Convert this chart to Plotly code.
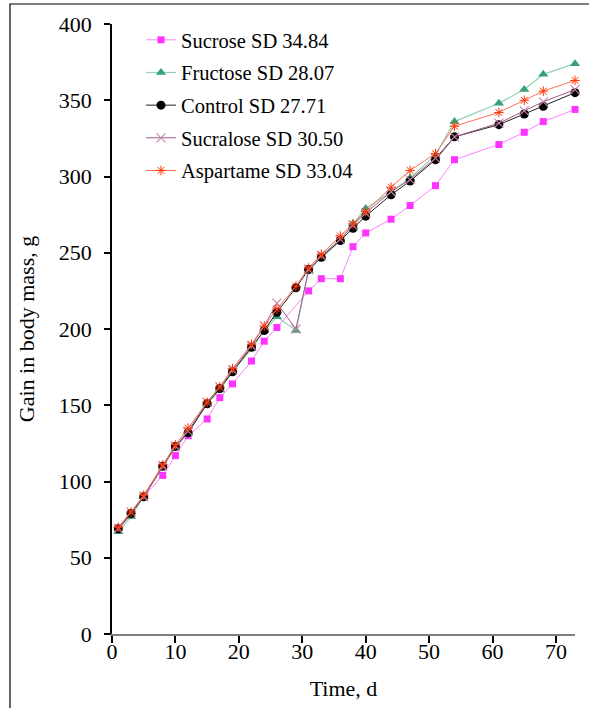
import plotly.graph_objects as go

days = [1, 3, 5, 8, 10, 12, 15, 17, 19, 22, 24, 26, 29, 31, 33, 36, 38, 40, 44, 47, 51, 54, 61, 65, 68, 73]

sucrose = [69, 78, 90, 104, 117, 130, 141, 155, 164, 179, 192, 201, None, 225, 233, 233, 254, 263, 272, 281, 294, 311, 321, 329, 336, 344]
fructose = [67, 77, 90, 110, 122, 132, 151, 160, 172, 187, 199, 208, 199, 238, 247, 258, 269, 279, 290, 299, 314, 336, 348, 357, 367, 374]
control = [69, 79, 90, 110, 123, 132, 151, 161, 172, 188, 199, 211, 227, 239, 247, 258, 266, 274, 288, 297, 311, 326, 334, 341, 346, 355]
sucralose = [69, 80, 90, 110, 123, 133, 152, 162, 173, 189, 202, 217, 200, 239, 248, 259, 268, 276, 290, 298, 312, 326, 335, 343, 349, 357]
aspartame = [70, 80, 91, 111, 124, 135, 152, 162, 174, 190, 202, 213, 228, 240, 249, 261, 269, 277, 293, 304, 315, 333, 342, 350, 356, 363]

names = ["Sucrose SD 34.84", "Fructose SD 28.07", "Control SD 27.71", "Sucralose SD 30.50", "Aspartame SD 33.04"]
x_ticks = [0, 10, 20, 30, 40, 50, 60, 70]
y_ticks = [0, 50, 100, 150, 200, 250, 300, 350, 400]

FONT = "Liberation Serif, Times New Roman, serif"

fig = go.Figure()

styles = [
    (sucrose, dict(color="#FF80FF", width=1), dict(symbol="square", size=7, color="#FF33FF")),
    (fructose, dict(color="#8FD3B3", width=1.2), dict(symbol="triangle-up", size=9, color="#3AA077")),
    (control, dict(color="#222222", width=1), dict(symbol="circle", size=9, color="#000000")),
    (sucralose, dict(color="#A05A85", width=1), dict(symbol="x-thin", size=9, color="#C880A8",
                                                     line=dict(color="#C880A8", width=1.1))),
    (aspartame, dict(color="#FF6E55", width=1), dict(symbol="asterisk", size=8, color="#FF3300",
                                                     line=dict(color="#FF3300", width=1))),
]

for i, (vals, ln, mk) in enumerate(styles):
    fig.add_trace(go.Scatter(
        x=days, y=vals, name=names[i], mode="lines+markers",
        line=ln, marker=mk, connectgaps=True, cliponaxis=False,
        legendgroup=f"g{i}",
    ))

W, H = 589, 708
ml, mr, mt, mb = 112, 14, 24, 74
pw, ph = W - ml - mr, H - mt - mb

fig.update_layout(
    width=W, height=H,
    margin=dict(l=ml, r=mr, t=mt, b=mb, pad=0),
    paper_bgcolor="white", plot_bgcolor="white",
    font=dict(family=FONT, size=22, color="black"),
    showlegend=True,
    legend=dict(
        x=(141 - ml) / pw, y=(H - mb - 20) / ph, xanchor="left", yanchor="top",
        font=dict(family=FONT, size=20.5, color="black"),
        bgcolor="rgba(255,255,255,0)", tracegroupgap=3,
        itemclick=False,
    ),
    xaxis=dict(
        range=[0, 73], tickvals=x_ticks, ticktext=[str(v) for v in x_ticks],
        showgrid=False, zeroline=False, showline=True, linecolor="#808080", linewidth=2,
        ticks="outside", ticklen=7, tickcolor="black", tickwidth=1.5,
        tickfont=dict(family=FONT, size=22), ticklabelstandoff=-10,
        title=dict(text="Time, d", font=dict(family=FONT, size=22), standoff=17),
    ),
    yaxis=dict(
        range=[0, 400], tickvals=y_ticks, ticktext=[str(v) for v in y_ticks],
        showgrid=False, zeroline=False, showline=True, linecolor="black", linewidth=1.5,
        ticks="outside", ticklen=6, tickcolor="black", tickwidth=1.5,
        tickfont=dict(family=FONT, size=22), ticklabelstandoff=8,
        title=dict(text="Gain in body mass, g", font=dict(family=FONT, size=22), standoff=18),
    ),
    shapes=[dict(
        type="rect", xref="paper", yref="paper",
        x0=(10 - ml) / pw, x1=(W + 5 - ml) / pw,
        y0=(H - mb - (H + 5)) / ph, y1=(H - mb - 4) / ph,
        line=dict(color="black", width=1.2), fillcolor="rgba(0,0,0,0)", layer="below",
    )],
)

fig.write_html("out.html")
